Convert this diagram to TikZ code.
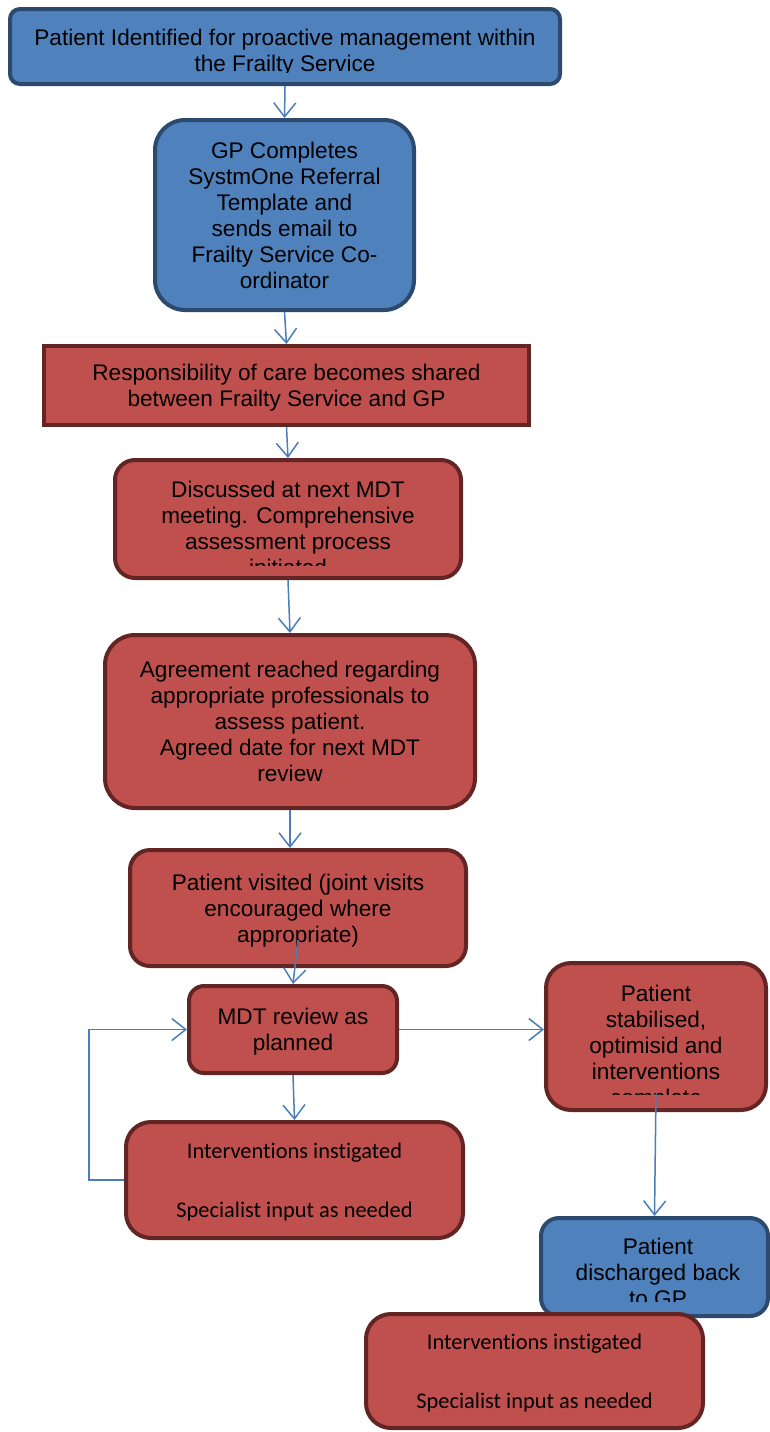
\documentclass[tikz,border=0pt]{standalone}
\usepackage{fontspec}
\setmainfont{Liberation Sans}
\newfontfamily\calibrifont[Ligatures=NoCommon]{Carlito}
\usetikzlibrary{arrows.meta}
\definecolor{bluefill}{HTML}{4F81BD}
\definecolor{blueedge}{HTML}{2B4A6E}
\definecolor{redfill}{HTML}{C0504D}
\definecolor{rededge}{HTML}{632523}
\definecolor{flowblue}{HTML}{4A7EBB}
\begin{document}
\begin{tikzpicture}[x=0.5pt,y=-0.5pt,
		bluebox/.style={draw=blueedge,fill=bluefill,line width=2pt,inner sep=0pt,text depth=0pt,align=center,font=\fontsize{11.3}{13}\selectfont},
		redbox/.style={draw=rededge,fill=redfill,line width=2pt,inner sep=0pt,text depth=0pt,align=center,font=\fontsize{11.3}{13}\selectfont},
		txt/.style={inner sep=0pt,align=center,font=\fontsize{11.3}{13}\selectfont},
		cal/.style={font=\calibrifont\fontsize{11.2}{14.75}\selectfont},
		flow/.style={draw=flowblue,line width=0.75pt,-{Straight Barb[length=7pt,width=11pt]}}]
	\useasboundingbox (0,0) rectangle (770,1432);
	% boxes
	\node [bluebox,rounded corners=5pt,minimum width=275pt,minimum height=37.5pt] (ident) at (285,46.5) {};
	\begin{scope}
		\clip (8,8) rectangle (562,72);
		\node [txt] at (285,52.5) {Patient Identified for proactive management within\\the Frailty Service};
	\end{scope}
	\node [bluebox,rounded corners=15pt,minimum width=129.5pt,minimum height=95pt] (gpref) at (284.5,215) {GP Completes\\SystmOne Referral\\Template and\\sends email to\\Frailty Service Co-\\ordinator};
	\node [redbox,minimum width=242.5pt,minimum height=39.5pt] (shared) at (286.5,385.5) {Responsibility of care becomes shared\\between Frailty Service and GP};
	\node [redbox,rounded corners=10pt,minimum width=173pt,minimum height=59pt] (assess) at (288,519) {};
	\begin{scope}
		\clip (113,458) rectangle (463,565);
		\node [txt] at (288,528) {Discussed at next MDT\\meeting. Comprehensive\\assessment process\\initiated};
	\end{scope}
	\node [redbox,rounded corners=15pt,minimum width=185pt,minimum height=86.5pt] (agree) at (290,721.5) {Agreement reached regarding\\appropriate professionals to\\assess patient.\\Agreed date for next MDT\\review};
	\node [redbox,rounded corners=10pt,minimum width=168pt,minimum height=58pt] (visit) at (298,908) {Patient visited (joint visits\\encouraged where\\appropriate)};
	\node [redbox,rounded corners=7.5pt,minimum width=104pt,minimum height=43.5pt] (mdt) at (293,1029.5) {MDT review as\\planned};
	\node [redbox,cal,rounded corners=12.5pt,minimum width=168.5pt,minimum height=58pt] (interv) at (294.5,1180) {Interventions instigated\\[14.75pt]Specialist input as needed};
	\node [redbox,rounded corners=12.5pt,minimum width=110pt,minimum height=73.5pt] (stable) at (656,1036.5) {};
	\begin{scope}
		\clip (544,961) rectangle (768,1094);
		\node [txt] at (656,1048) {Patient\\stabilised,\\optimisid and\\interventions\\complete};
	\end{scope}
	\node [bluebox,rounded corners=9pt,minimum width=113.5pt,minimum height=49pt] (disch) at (654.5,1267) {};
	\begin{scope}
		\clip (539,1216) rectangle (770,1301);
		\node [txt] at (658,1272) {Patient\\discharged back\\to GP};
	\end{scope}
	\node [redbox,cal,rounded corners=12.5pt,minimum width=168.5pt,minimum height=57pt] (interv2) at (534.5,1371) {Interventions instigated\\[14.75pt]Specialist input as needed};
	% connectors
	\draw [flow] (ident.south) -- (gpref.north);
	\draw [flow] (gpref.south) -- (shared.north);
	\draw [flow] (shared.south) -- (assess.north);
	\draw [flow] (assess.south) -- (agree.north);
	\draw [flow] (agree.south) -- (agree.south |- visit.north);
	\draw [flow] ([yshift=14pt]visit.south) -- (mdt.north);
	\draw [flow] (mdt.south) -- (interv.north);
	\draw [flow] (mdt.east) -- (mdt.east -| stable.west);
	\draw [flow] (interv.west) -- ++(-35,0) |- (mdt.west);
	\draw [flow] ([yshift=9pt]stable.south) -- (disch.north);
\end{tikzpicture}
\end{document}
